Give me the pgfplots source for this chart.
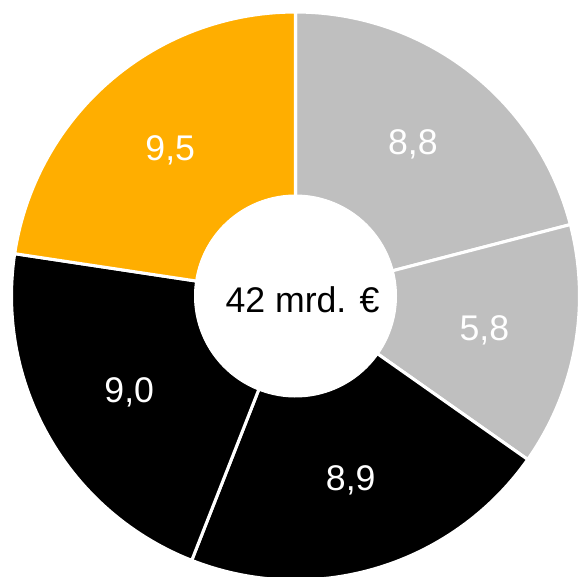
\documentclass[border=0pt]{standalone}
\usepackage{pgfplots}
\pgfplotsset{compat=1.18}
\usepackage{fontspec}
\setmainfont{Liberation Sans}
\definecolor{grayc}{HTML}{BFBFBF}
\definecolor{orangec}{HTML}{FFAE00}
% slice values (mrd. EUR), clockwise from top
\def\vA{8.8}\def\vB{5.8}\def\vC{8.9}\def\vD{9.0}\def\vE{9.5}
\pgfmathsetmacro\tot{\vA+\vB+\vC+\vD+\vE}
\pgfmathsetmacro\aA{90}
\pgfmathsetmacro\aB{\aA-\vA*360/\tot}
\pgfmathsetmacro\aC{\aB-\vB*360/\tot}
\pgfmathsetmacro\aD{\aC-\vC*360/\tot}
\pgfmathsetmacro\aE{\aD-\vD*360/\tot}
\pgfmathsetmacro\aF{\aE-\vE*360/\tot}
\def\Ro{284}\def\Ri{101}\def\Rl{192}
\begin{document}
\begin{tikzpicture}
\begin{axis}[
  width=8cm, height=7.9448cm, scale only axis,
  xmin=-295.5, xmax=284.5, ymin=-280, ymax=296,
  hide axis, clip=true,
]
\addplot[fill=grayc, draw=white, line width=1.2pt, domain=\aB:\aA, samples=60, variable=\t]
  ({\Ro*cos(\t)},{\Ro*sin(\t)}) -- (axis cs:0,0) -- cycle;
\addplot[fill=grayc, draw=white, line width=1.2pt, domain=\aC:\aB, samples=60, variable=\t]
  ({\Ro*cos(\t)},{\Ro*sin(\t)}) -- (axis cs:0,0) -- cycle;
\addplot[fill=black, draw=white, line width=1.2pt, domain=\aD:\aC, samples=60, variable=\t]
  ({\Ro*cos(\t)},{\Ro*sin(\t)}) -- (axis cs:0,0) -- cycle;
\addplot[fill=black, draw=white, line width=1.2pt, domain=\aE:\aD, samples=60, variable=\t]
  ({\Ro*cos(\t)},{\Ro*sin(\t)}) -- (axis cs:0,0) -- cycle;
\addplot[fill=orangec, draw=white, line width=1.2pt, domain=\aF:\aE, samples=60, variable=\t]
  ({\Ro*cos(\t)},{\Ro*sin(\t)}) -- (axis cs:0,0) -- cycle;
\addplot[fill=white, draw=white, domain=0:360, samples=120, variable=\t]
  ({\Ri*cos(\t)},{\Ri*sin(\t)}) -- cycle;
\pgfmathsetmacro\mA{(\aA+\aB)/2}
\pgfmathsetmacro\mB{(\aB+\aC)/2}
\pgfmathsetmacro\mC{(\aC+\aD)/2}
\pgfmathsetmacro\mD{(\aD+\aE)/2}
\pgfmathsetmacro\mE{(\aE+\aF)/2}
\node[white, font=\fontsize{14}{16}\selectfont] at (axis cs:{\Rl*cos(\mA)},{\Rl*sin(\mA)}) {8,8};
\node[white, font=\fontsize{14}{16}\selectfont] at (axis cs:{\Rl*cos(\mB)},{\Rl*sin(\mB)}) {5,8};
\node[white, font=\fontsize{14}{16}\selectfont] at (axis cs:{\Rl*cos(\mC)},{\Rl*sin(\mC)}) {8,9};
\node[white, font=\fontsize{14}{16}\selectfont] at (axis cs:{\Rl*cos(\mD)},{\Rl*sin(\mD)}) {9,0};
\node[white, font=\fontsize{14}{16}\selectfont] at (axis cs:{\Rl*cos(\mE)},{\Rl*sin(\mE)}) {9,5};
\node[black, font=\fontsize{14}{16}\selectfont] at (axis cs:7,-4) {42 mrd. €};
\end{axis}
\pgfresetboundingbox
\path[use as bounding box] (current axis.south west) rectangle (current axis.north east);
\end{tikzpicture}
\end{document}
